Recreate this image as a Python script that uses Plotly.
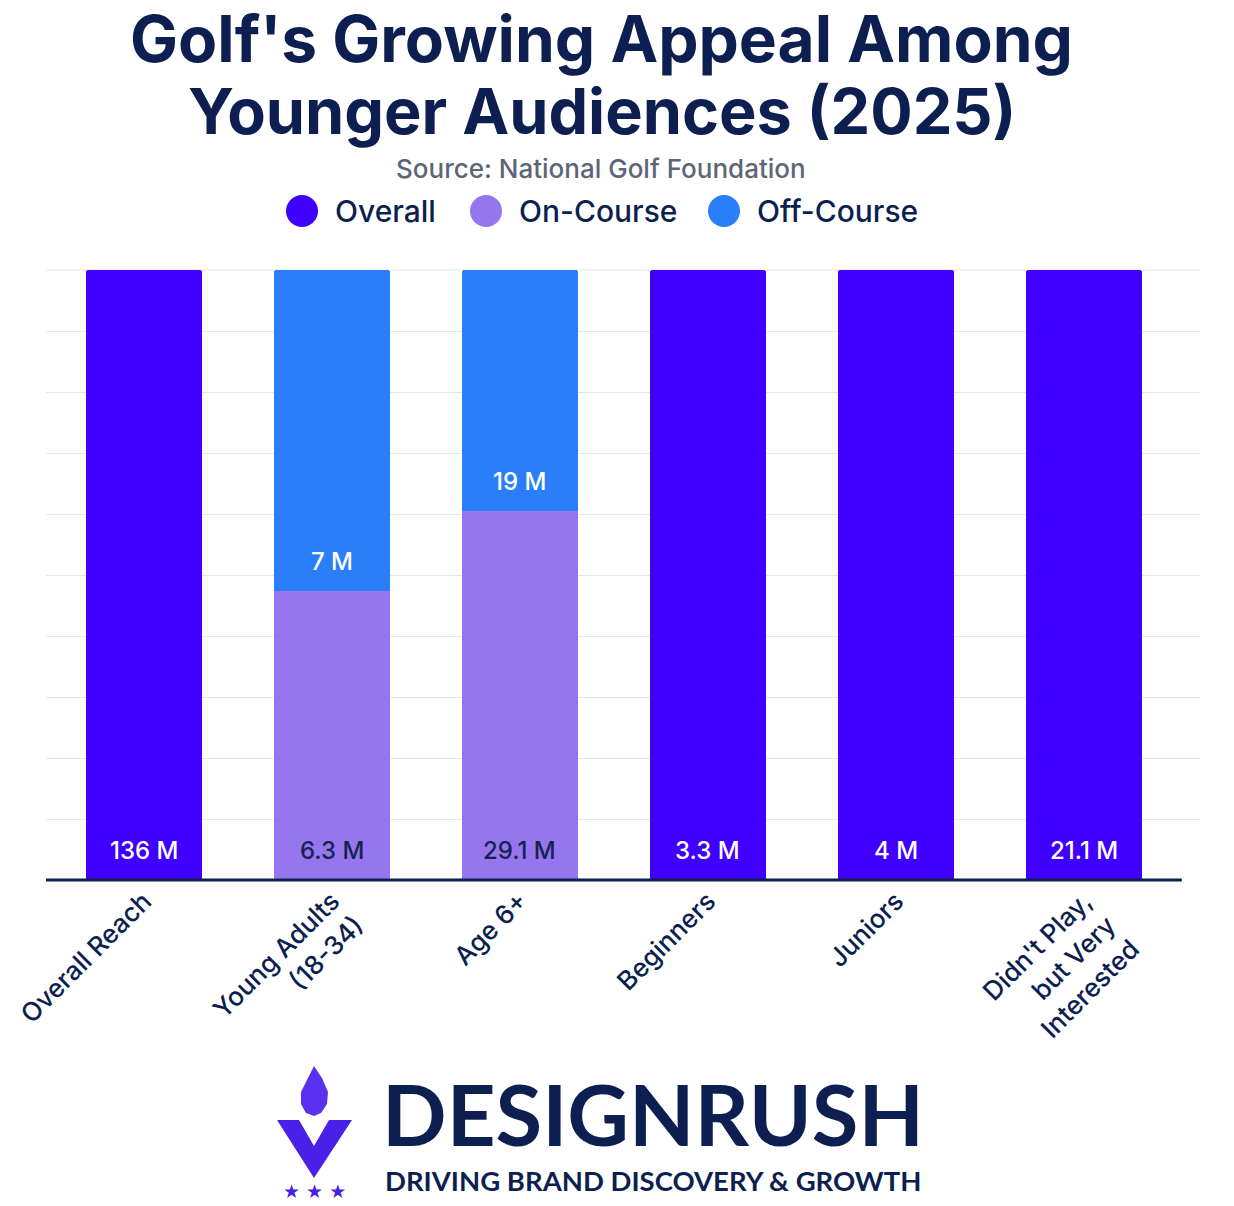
import plotly.graph_objects as go

categories = ["Overall Reach", "Young Adults<br>(18-34)", "Age 6+", "Beginners", "Juniors",
              "Didn't Play,<br>but Very<br>Interested"]
overall = [136, None, None, 3.3, 4, 21.1]
on_course = [None, 6.3, 29.1, None, None, None]
off_course = [None, 7, 19, None, None, None]
series_names = ["Overall", "On-Course", "Off-Course"]
colors = ["#4000ff", "#9676ef", "#2a7efa"]
label_colors = ["#ffffff", "#14234f", "#ffffff"]

NAVY = "#0c1f50"
FONT = "Inter"

W, H = 1234, 1206
L, R, T, B = 46, 1200, 270, 880


def px(x):
    return (x - L) / (R - L)


def py(y):
    return (B - y) / (B - T)


fig = go.Figure()
series = [overall, on_course, off_course]
for name, vals, col in zip(series_names, series, colors):
    fig.add_trace(go.Bar(
        x=list(range(len(categories))), y=[v if v is not None else 0 for v in vals],
        name=name, marker=dict(color=col, line=dict(width=0)), width=0.617,
        showlegend=False, hoverinfo="skip"))

# labels at the bottom of each segment (percent-normalised stack)
annotations = []
for i in range(len(categories)):
    total = sum((s[i] or 0) for s in series)
    base = 0.0
    for s, lc in zip(series, label_colors):
        v = s[i]
        if v is None or v == 0:
            continue
        txt = ("%g" % v) + " M"
        annotations.append(dict(x=i, y=base, xref="x", yref="y", text=txt, showarrow=False,
                                yanchor="bottom", yshift=13,
                                font=dict(family=FONT, size=24, color=lc, weight=500)))
        base += v / total * 100

# custom legend (circles + labels)
legend_circle_x = [302, 486, 724]
shapes = []
for name, col, cx in zip(series_names, colors, legend_circle_x):
    shapes.append(dict(type="circle", xref="paper", yref="paper",
                       x0=px(cx - 16), x1=px(cx + 16), y0=py(211 + 16), y1=py(211 - 16),
                       fillcolor=col, line=dict(width=0)))
    annotations.append(dict(x=px(cx + 31), y=py(211), xref="paper", yref="paper", text=name,
                            showarrow=False, xanchor="left", yanchor="middle",
                            font=dict(family=FONT, size=30, color=NAVY, weight=500)))

# title & subtitle & footer
annotations += [
    dict(x=px(601), y=py(38), xref="paper", yref="paper", text="<b>Golf's Growing Appeal Among</b>",
         showarrow=False, font=dict(family=FONT, size=64, color=NAVY, weight=800), xanchor="center", yanchor="middle"),
    dict(x=px(602), y=py(111), xref="paper", yref="paper", text="<b>Younger Audiences (2025)</b>",
         showarrow=False, font=dict(family=FONT, size=63, color=NAVY, weight=800), xanchor="center", yanchor="middle"),
    dict(x=px(601), y=py(168), xref="paper", yref="paper", text="Source: National Golf Foundation",
         showarrow=False, font=dict(family=FONT, size=26, color="#5d6579", weight=500), xanchor="center", yanchor="middle"),
    dict(x=px(653), y=py(1113), xref="paper", yref="paper", text="<b>DESIGNRUSH</b>",
         showarrow=False, font=dict(family="Lato", size=85, color=NAVY, weight=900), xanchor="center", yanchor="middle"),
    dict(x=px(653), y=py(1180), xref="paper", yref="paper", text="<b>DRIVING BRAND DISCOVERY &amp; GROWTH</b>",
         showarrow=False, font=dict(family="Lato", size=27.5, color=NAVY, weight=900), xanchor="center", yanchor="middle"),
    dict(x=px(314), y=py(1191), xref="paper", yref="paper", text="★ ★ ★",
         showarrow=False, font=dict(family="DejaVu Sans", size=19, color="#4a1fe8"), xanchor="center", yanchor="middle"),
]


def path(points):
    return "M " + " L ".join(f"{px(x):.5f},{py(y):.5f}" for x, y in points) + " Z"


shapes += [
    # top gridline
    dict(type="line", xref="paper", yref="paper", x0=0, x1=1, y0=1, y1=1,
         line=dict(color="#e6e7ec", width=1), layer="below"),
    # axis baseline
    dict(type="line", xref="x", yref="paper", x0=-0.521, x1=5.52, y0=0, y1=0,
         line=dict(color=NAVY, width=3)),
    # logo V
    dict(type="path", xref="paper", yref="paper",
         path=path([(277, 1120), (299, 1120), (314, 1146), (329, 1120), (352, 1120), (314, 1178)]),
         fillcolor="#4a1fe8", line=dict(width=0)),
    # flame
    dict(type="path", xref="paper", yref="paper",
         path=path([(314, 1066), (322, 1078), (328, 1092), (327, 1104), (321, 1113), (314, 1116),
                    (306, 1113), (301, 1104), (301, 1092), (307, 1080)]),
         fillcolor="#5b2ff0", line=dict(width=0)),
]

fig.update_layout(
    width=W, height=H,
    margin=dict(l=L, r=W - R, t=T, b=H - B, pad=0),
    paper_bgcolor="white", plot_bgcolor="white",
    barmode="stack", barnorm="percent", barcornerradius=3,
    showlegend=False,
    font=dict(family=FONT, color=NAVY),
    xaxis=dict(tickmode="array", tickvals=list(range(len(categories))), ticktext=categories,
               range=[-0.521, 5.617], tickangle=-45, showgrid=False, zeroline=False,
               showline=False, ticks="", tickfont=dict(family=FONT, size=26, color=NAVY, weight=500)),
    yaxis=dict(range=[0, 100], dtick=10, showticklabels=False, gridcolor="#e6e7ec", gridwidth=1,
               zeroline=False, showline=False, ticks=""),
    annotations=annotations, shapes=shapes,
)

fig.write_html("out.html")
